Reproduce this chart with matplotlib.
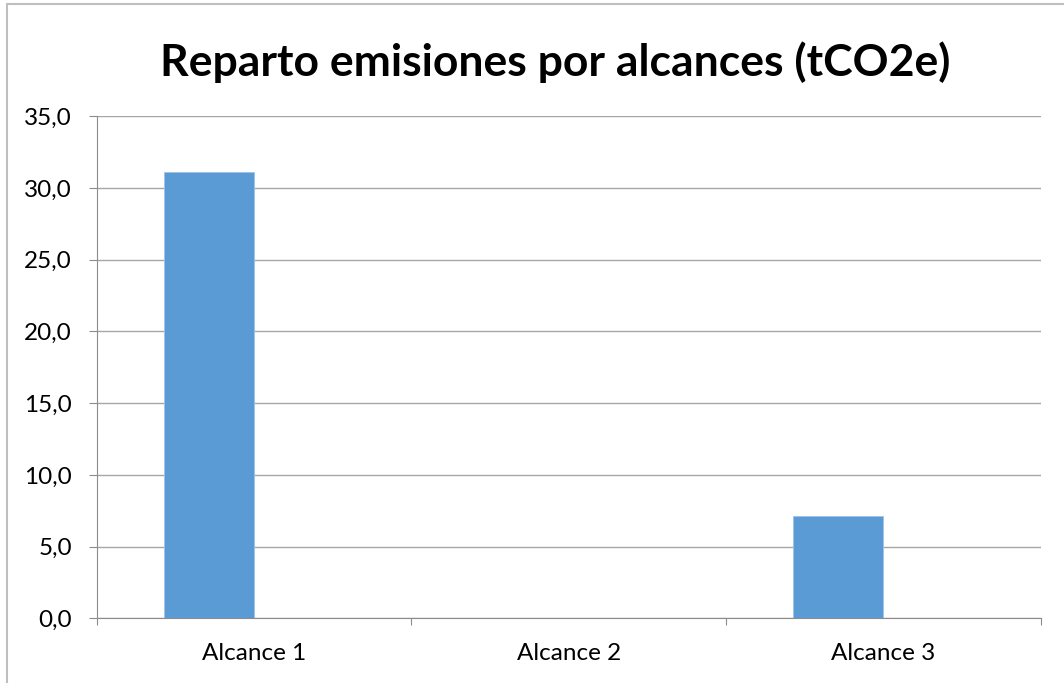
import numpy as np
import matplotlib.pyplot as plt
from matplotlib.patches import Rectangle

# Datos
categorias = ['Alcance 1', 'Alcance 2', 'Alcance 3']
emisiones = [31.1, 0.0, 7.15]
titulo = 'Reparto emisiones por alcances (tCO2e)'

plt.rcParams['font.family'] = ['Lato', 'DejaVu Sans']

fig = plt.figure(figsize=(10.64, 6.83), dpi=100)
ax = fig.add_axes([0.0909, 0.0947, 0.8872, 0.7349])

# marco exterior del grafico
fig.patches.append(Rectangle((7 / 1064, -0.05), 1.1, 1 - 4 / 683 + 0.05,
                             transform=fig.transFigure, fill=False,
                             edgecolor='#bfbfbf', linewidth=1.5))

x = np.arange(len(categorias))
ancho = 0.286
ax.bar(x - ancho, emisiones, width=ancho, align='edge', color='#5b9bd5',
       edgecolor='#9dc3e6', linewidth=0.6, zorder=3)

ax.set_xlim(-0.5, 2.5)
ax.set_ylim(0, 35)
ax.set_yticks(np.arange(0, 36, 5))
ax.set_yticklabels([f'{v:.1f}'.replace('.', ',') for v in np.arange(0, 36, 5)],
                   fontsize=17.5)
ax.yaxis.grid(True, color='#a6a6a6', linewidth=1.0, zorder=0)

ax.set_xticks([-0.5, 0.5, 1.5, 2.5])
ax.set_xticklabels([])
ax.set_xticks(x, minor=True)
ax.set_xticklabels(categorias, minor=True, fontsize=17.5)
ax.tick_params(axis='x', which='minor', length=0, pad=18)
ax.tick_params(axis='x', which='major', length=5, color='#8c8c8c')
ax.tick_params(axis='y', length=5.8, color='#8c8c8c', pad=12)

for lado in ['top', 'right']:
    ax.spines[lado].set_visible(False)
ax.spines['left'].set_color('#8c8c8c')
ax.spines['bottom'].set_color('#8c8c8c')

fig.text(0.522, 0.909, titulo, ha='center', va='center', fontsize=32,
         fontweight='bold')

plt.savefig('out.png', dpi=100)
